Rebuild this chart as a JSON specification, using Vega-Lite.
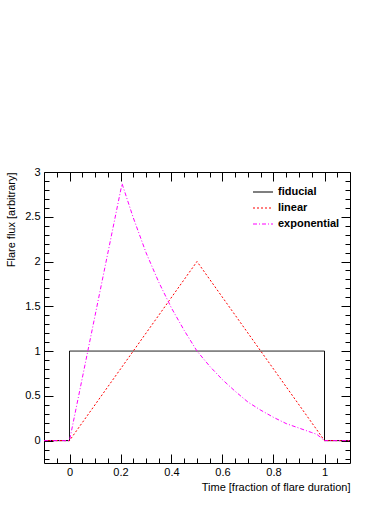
{
  "$schema": "https://vega.github.io/schema/vega-lite/v6.json",
  "width": 306,
  "height": 291,
  "autosize": "none",
  "padding": {"left": 44, "top": 172, "right": 40, "bottom": 42},
  "background": "white",
  "config": {
    "view": {"stroke": null},
    "font": "Liberation Sans",
    "axis": {
      "grid": false,
      "labelFont": "Liberation Sans",
      "labelFontSize": 11,
      "labelColor": "black",
      "titleFont": "Liberation Sans",
      "titleFontSize": 11,
      "titleFontWeight": "normal",
      "titleColor": "black",
      "tickColor": "black",
      "domainColor": "black",
      "tickWidth": 1,
      "domainWidth": 1
    }
  },
  "data": {
    "values": [
      {"model": "fiducial", "i": 0, "t": -0.1, "flux": 0},
      {"model": "fiducial", "i": 1, "t": 0, "flux": 0},
      {"model": "fiducial", "i": 2, "t": 0, "flux": 1},
      {"model": "fiducial", "i": 3, "t": 1, "flux": 1},
      {"model": "fiducial", "i": 4, "t": 1, "flux": 0},
      {"model": "fiducial", "i": 5, "t": 1.1, "flux": 0},
      {"model": "linear", "i": 0, "t": -0.1, "flux": 0},
      {"model": "linear", "i": 1, "t": 0, "flux": 0},
      {"model": "linear", "i": 2, "t": 0.5, "flux": 2},
      {"model": "linear", "i": 3, "t": 1, "flux": 0},
      {"model": "linear", "i": 4, "t": 1.1, "flux": 0},
      {"model": "exponential", "i": 0, "t": -0.1, "flux": 0},
      {"model": "exponential", "i": 1, "t": 0, "flux": 0},
      {"model": "exponential", "i": 2, "t": 0.206, "flux": 2.87},
      {"model": "exponential", "i": 3, "t": 0.25, "flux": 2.49},
      {"model": "exponential", "i": 4, "t": 0.3, "flux": 2.1},
      {"model": "exponential", "i": 5, "t": 0.35, "flux": 1.77},
      {"model": "exponential", "i": 6, "t": 0.4, "flux": 1.48},
      {"model": "exponential", "i": 7, "t": 0.45, "flux": 1.23},
      {"model": "exponential", "i": 8, "t": 0.5, "flux": 1.0},
      {"model": "exponential", "i": 9, "t": 0.55, "flux": 0.83},
      {"model": "exponential", "i": 10, "t": 0.6, "flux": 0.68},
      {"model": "exponential", "i": 11, "t": 0.65, "flux": 0.55},
      {"model": "exponential", "i": 12, "t": 0.7, "flux": 0.43},
      {"model": "exponential", "i": 13, "t": 0.75, "flux": 0.34},
      {"model": "exponential", "i": 14, "t": 0.8, "flux": 0.26},
      {"model": "exponential", "i": 15, "t": 0.85, "flux": 0.19},
      {"model": "exponential", "i": 16, "t": 0.9, "flux": 0.14},
      {"model": "exponential", "i": 17, "t": 0.95, "flux": 0.09},
      {"model": "exponential", "i": 18, "t": 0.97, "flux": 0.07},
      {"model": "exponential", "i": 19, "t": 1, "flux": 0},
      {"model": "exponential", "i": 20, "t": 1.1, "flux": 0}
    ]
  },
  "layer": [
    {
      "mark": {"type": "line", "strokeWidth": 1, "clip": true},
      "encoding": {
        "x": {
          "field": "t", "type": "quantitative",
          "scale": {"domain": [-0.1, 1.1], "nice": false, "zero": false},
          "axis": {
            "orient": "bottom",
            "values": [0, 0.2, 0.4, 0.6, 0.8, 1],
            "format": "~g",
            "tickSize": -9,
            "labelPadding": 12,
            "title": "Time [fraction of flare duration]",
            "titleAnchor": "end",
            "titlePadding": 4
          }
        },
        "y": {
          "field": "flux", "type": "quantitative",
          "scale": {"domain": [-0.25, 3], "nice": false, "zero": false},
          "axis": {
            "orient": "left",
            "values": [0, 0.5, 1, 1.5, 2, 2.5, 3],
            "format": "~g",
            "tickSize": -9,
            "labelPadding": 13,
            "title": "Flare flux [arbitrary]",
            "titleAnchor": "end",
            "titlePadding": 8
          }
        },
        "order": {"field": "i", "type": "quantitative"},
        "color": {
          "field": "model", "type": "nominal",
          "scale": {"domain": ["fiducial", "linear", "exponential"], "range": ["#000000", "#ff0000", "#ff00ff"]},
          "legend": {
            "title": null,
            "orient": "none",
            "legendX": 208,
            "legendY": 9,
            "symbolType": "stroke",
            "symbolSize": 400,
            "symbolStrokeWidth": 1.2,
            "symbolOpacity": 1,
            "labelFont": "Liberation Sans",
            "labelFontSize": 11,
            "labelFontWeight": "bold",
            "labelColor": "black",
            "labelOffset": 4,
            "rowPadding": -6,
            "encode": {
              "symbols": {"update": {
                "stroke": {"scale": "color", "field": "value"},
                "strokeDash": {"scale": "strokeDash", "field": "value"}
              }}
            }
          }
        },
        "strokeDash": {
          "field": "model", "type": "nominal",
          "scale": {"domain": ["fiducial", "linear", "exponential"], "range": [[1, 0], [2, 2], [4, 2, 1, 2]]},
          "legend": null
        }
      }
    },
    {
      "mark": {"type": "point", "opacity": 0},
      "encoding": {
        "x": {"field": "t", "type": "quantitative", "axis": {"orient": "top", "values": [0, 0.2, 0.4, 0.6, 0.8, 1], "labels": false, "tickSize": -9, "title": null}},
        "y": {"field": "flux", "type": "quantitative", "axis": {"orient": "right", "values": [0, 0.5, 1, 1.5, 2, 2.5, 3], "labels": false, "tickSize": -9, "title": null}}
      }
    },
    {
      "mark": {"type": "point", "opacity": 0},
      "encoding": {
        "x": {"field": "t", "type": "quantitative", "axis": {"orient": "bottom", "values": [-0.05, 0.05, 0.1, 0.15, 0.25, 0.3, 0.35, 0.45, 0.5, 0.55, 0.65, 0.7, 0.75, 0.85, 0.9, 0.95, 1.05], "labels": false, "domain": false, "tickSize": -5, "title": null}},
        "y": {"field": "flux", "type": "quantitative", "axis": {"orient": "left", "values": [-0.2, -0.1, 0.1, 0.2, 0.3, 0.4, 0.6, 0.7, 0.8, 0.9, 1.1, 1.2, 1.3, 1.4, 1.6, 1.7, 1.8, 1.9, 2.1, 2.2, 2.3, 2.4, 2.6, 2.7, 2.8, 2.9], "labels": false, "domain": false, "tickSize": -5, "title": null}}
      }
    },
    {
      "mark": {"type": "point", "opacity": 0},
      "encoding": {
        "x": {"field": "t", "type": "quantitative", "axis": {"orient": "top", "values": [-0.05, 0.05, 0.1, 0.15, 0.25, 0.3, 0.35, 0.45, 0.5, 0.55, 0.65, 0.7, 0.75, 0.85, 0.9, 0.95, 1.05], "labels": false, "domain": false, "tickSize": -5, "title": null}},
        "y": {"field": "flux", "type": "quantitative", "axis": {"orient": "right", "values": [-0.2, -0.1, 0.1, 0.2, 0.3, 0.4, 0.6, 0.7, 0.8, 0.9, 1.1, 1.2, 1.3, 1.4, 1.6, 1.7, 1.8, 1.9, 2.1, 2.2, 2.3, 2.4, 2.6, 2.7, 2.8, 2.9], "labels": false, "domain": false, "tickSize": -5, "title": null}}
      }
    }
  ],
  "resolve": {"axis": {"x": "independent", "y": "independent"}}
}
